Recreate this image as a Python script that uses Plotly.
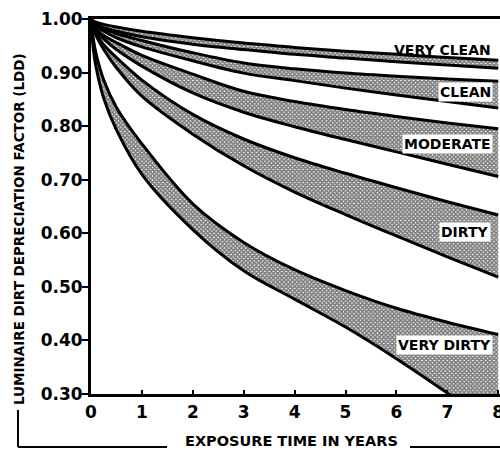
import plotly.graph_objects as go

# Exposure time in years
years = [0, 0.05, 0.1, 0.25, 0.5, 1, 2, 3, 4, 5, 6, 7, 8]

# Band limits (upper / lower curve) for each dirt category
very_clean_upper = [1.0, 0.996, 0.994, 0.990, 0.985, 0.977, 0.965, 0.955, 0.947, 0.940, 0.934, 0.928, 0.923]
very_clean_lower = [1.0, 0.993, 0.990, 0.984, 0.977, 0.967, 0.953, 0.943, 0.934, 0.927, 0.920, 0.914, 0.908]
clean_upper = [1.0, 0.993, 0.989, 0.982, 0.973, 0.960, 0.937, 0.918, 0.907, 0.899, 0.893, 0.888, 0.884]
clean_lower = [1.0, 0.991, 0.986, 0.977, 0.965, 0.948, 0.922, 0.899, 0.885, 0.871, 0.858, 0.846, 0.834]
moderate_upper = [1.0, 0.987, 0.981, 0.969, 0.956, 0.932, 0.897, 0.865, 0.846, 0.831, 0.818, 0.806, 0.795]
moderate_lower = [1.0, 0.986, 0.979, 0.963, 0.943, 0.912, 0.862, 0.826, 0.799, 0.775, 0.752, 0.729, 0.706]
dirty_upper = [1.0, 0.982, 0.973, 0.952, 0.928, 0.886, 0.822, 0.776, 0.741, 0.712, 0.685, 0.659, 0.634]
dirty_lower = [1.0, 0.981, 0.969, 0.943, 0.909, 0.856, 0.785, 0.726, 0.677, 0.635, 0.595, 0.556, 0.518]
very_dirty_upper = [1.0, 0.960, 0.935, 0.886, 0.835, 0.767, 0.655, 0.583, 0.532, 0.493, 0.460, 0.434, 0.411]
very_dirty_lower = [1.0, 0.940, 0.910, 0.852, 0.793, 0.710, 0.607, 0.530, 0.477, 0.425, 0.366, 0.302, 0.235]

band_names = ["VERY CLEAN", "CLEAN", "MODERATE", "DIRTY", "VERY DIRTY"]
band_upper = [very_clean_upper, clean_upper, moderate_upper, dirty_upper, very_dirty_upper]
band_lower = [very_clean_lower, clean_lower, moderate_lower, dirty_lower, very_dirty_lower]

# Label anchor positions (x in years, y in LDD)
label_x = [7.9, 7.9, 7.9, 7.85, 7.9]
label_y = [0.943, 0.863, 0.767, 0.603, 0.392]
label_bg = [False, True, True, True, True]

y_ticks = [0.30, 0.40, 0.50, 0.60, 0.70, 0.80, 0.90, 1.00]
y_tick_text = ["0.30", "0.40", "0.50", "0.60", "0.70", "0.80", "0.90", "1.00"]
x_ticks = [0, 1, 2, 3, 4, 5, 6, 7, 8]

FONT = "DejaVu Sans"

fig = go.Figure()
for name, up, lo in zip(band_names, band_upper, band_lower):
    fig.add_trace(go.Scatter(
        x=years, y=lo, mode="lines", name=name + " low",
        line=dict(color="black", width=3, shape="spline", smoothing=1.0),
        showlegend=False, hoverinfo="skip"))
    fig.add_trace(go.Scatter(
        x=years, y=up, mode="lines", name=name,
        line=dict(color="black", width=3, shape="spline", smoothing=1.0),
        fill="tonexty",
        fillcolor="rgba(0,0,0,0)",
        fillpattern=dict(shape="x", fgcolor="black", bgcolor="white", size=3, solidity=0.8),
        showlegend=False, hoverinfo="skip"))

for name, lx, ly, bg in zip(band_names, label_x, label_y, label_bg):
    fig.add_annotation(
        x=lx, y=ly, text=name, showarrow=False, xanchor="right", yanchor="middle",
        font=dict(family=FONT, size=14, color="black", weight="bold"),
        bgcolor="white" if bg else "rgba(0,0,0,0)", borderpad=1)

fig.update_xaxes(
    range=[0, 8.035], tickvals=x_ticks, ticks="inside", ticklen=4, tickwidth=2,
    tickcolor="black", showline=True, linecolor="black", linewidth=3, mirror=True,
    showgrid=False, zeroline=False, ticklabelstandoff=1, automargin=False,
    ticklabeloverflow="allow",
    tickfont=dict(family=FONT, size=17, color="black", weight="bold"))
fig.update_yaxes(
    range=[0.30, 1.00], tickvals=y_ticks, ticktext=y_tick_text, ticks="outside",
    ticklen=6, tickwidth=2, tickcolor="black", showline=True, linecolor="black",
    linewidth=3, showgrid=False, zeroline=False, ticklabelstandoff=-4, automargin=False,
    tickfont=dict(family=FONT, size=17, color="black", weight="bold"))

# axis titles
fig.add_annotation(
    x=-0.176, y=0.44, xref="paper", yref="paper", textangle=-90, showarrow=False,
    xanchor="center", yanchor="middle",
    text="LUMINAIRE DIRT DEPRECIATION FACTOR (LDD)",
    font=dict(family=FONT, size=13.5, color="black", weight="bold"))
fig.add_annotation(
    x=0.489, y=-0.125, xref="paper", yref="paper", showarrow=False,
    xanchor="center", yanchor="middle",
    text="EXPOSURE TIME IN YEARS",
    font=dict(family=FONT, size=14.5, color="black", weight="bold"))

# bracket decoration around titles
fig.add_shape(type="line", xref="paper", yref="paper", x0=-0.1785, x1=-0.1785,
              y0=-0.0427, y1=-0.1413, line=dict(color="black", width=2))
fig.add_shape(type="line", xref="paper", yref="paper", x0=-0.1785, x1=0.186,
              y0=-0.1413, y1=-0.1413, line=dict(color="black", width=2))
fig.add_shape(type="line", xref="paper", yref="paper", x0=0.78, x1=1.0,
              y0=-0.1413, y1=-0.1413, line=dict(color="black", width=2))

fig.update_layout(
    width=500, height=451,
    margin=dict(l=91, r=0, t=19, b=57, pad=0),
    plot_bgcolor="white", paper_bgcolor="white",
    showlegend=False)

# remove the browser's default 8px body margin so the figure fills the window
fig.write_html("out.html",
               config={"displayModeBar": False},
               post_script="document.body.style.margin='0';document.body.style.overflow='hidden';")
